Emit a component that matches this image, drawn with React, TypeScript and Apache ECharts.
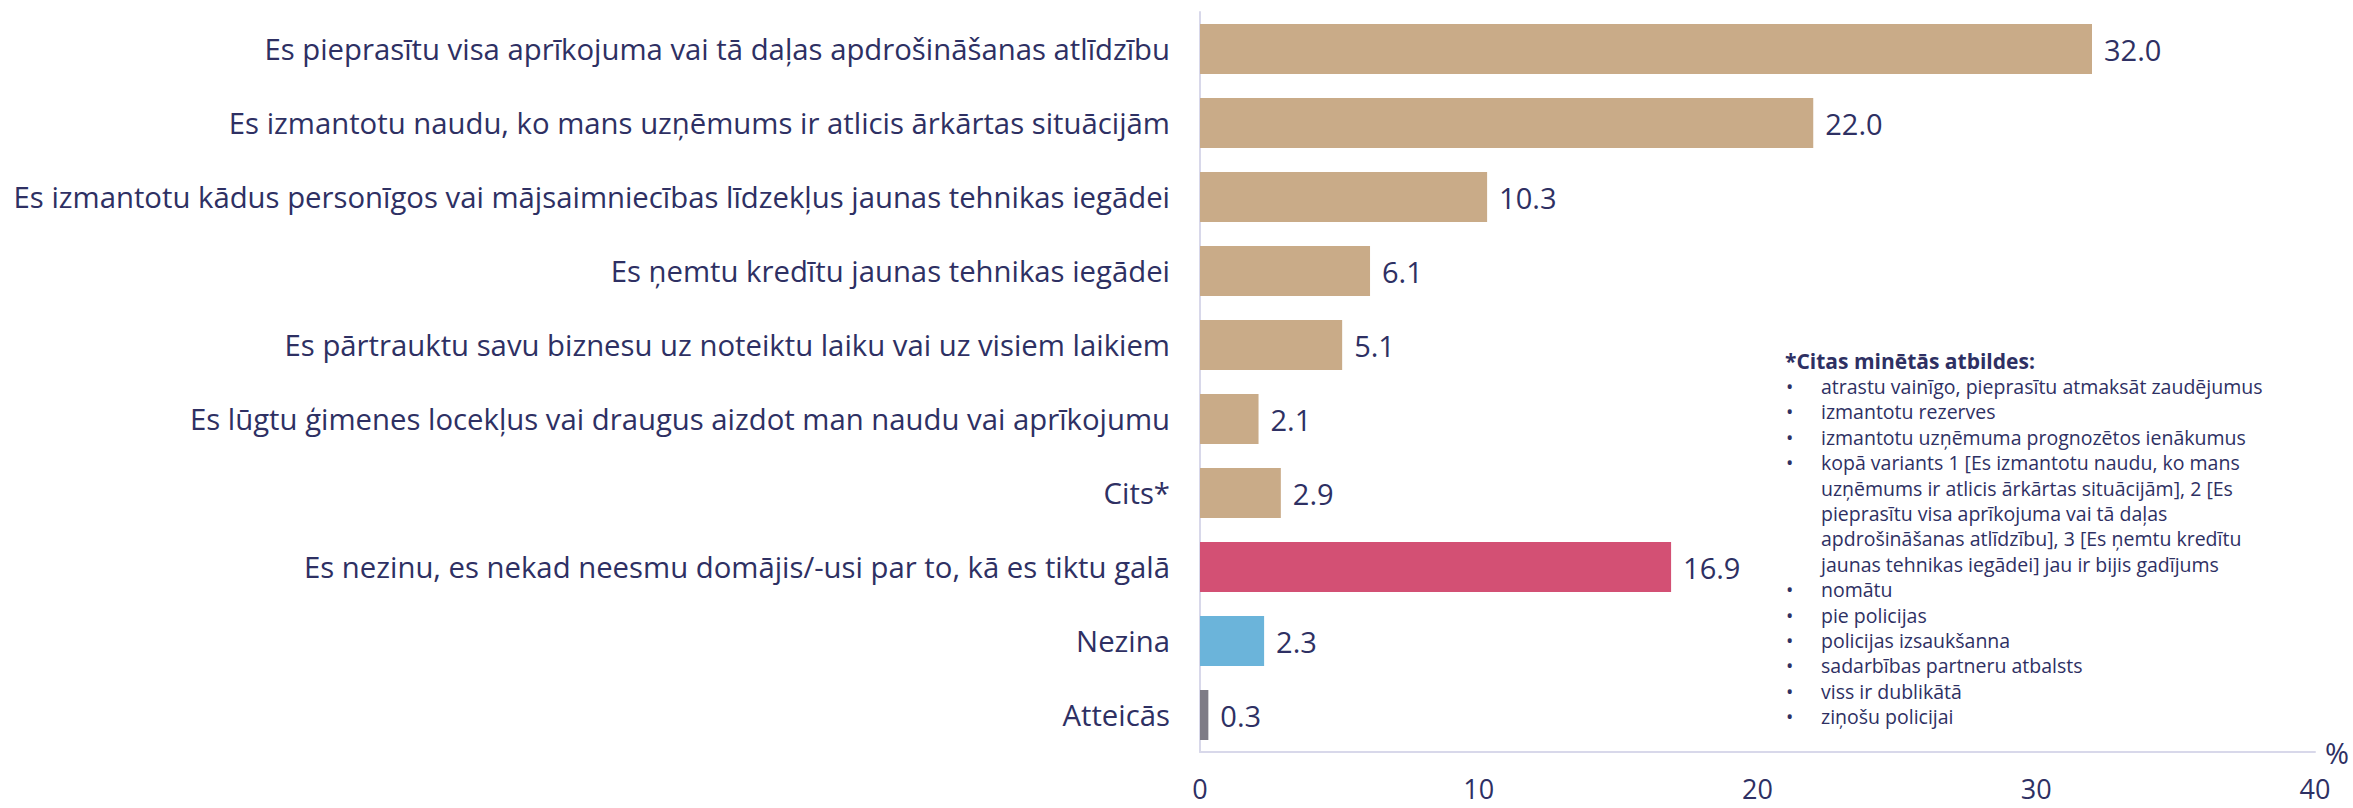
import React, { useEffect, useRef } from "react";
import * as echarts from "echarts";

const categories = [
  "Es pieprasītu visa aprīkojuma vai tā daļas apdrošināšanas atlīdzību",
  "Es izmantotu naudu, ko mans uzņēmums ir atlicis ārkārtas situācijām",
  "Es izmantotu kādus personīgos vai mājsaimniecības līdzekļus jaunas tehnikas iegādei",
  "Es ņemtu kredītu jaunas tehnikas iegādei",
  "Es pārtrauktu savu biznesu uz noteiktu laiku vai uz visiem laikiem",
  "Es lūgtu ģimenes locekļus vai draugus aizdot man naudu vai aprīkojumu",
  "Cits*",
  "Es nezinu, es nekad neesmu domājis/-usi par to, kā es tiktu galā",
  "Nezina",
  "Atteicās",
];
const values = [32.0, 22.0, 10.3, 6.1, 5.1, 2.1, 2.9, 16.9, 2.3, 0.3];
const barColors = [
  "#C9AB88", "#C9AB88", "#C9AB88", "#C9AB88", "#C9AB88", "#C9AB88", "#C9AB88",
  "#D35074", "#6BB4DA", "#7E7C86",
];
const xTicks = [0, 10, 20, 30, 40];
const noteTitle = "*Citas minētās atbildes:";
const noteLines: [boolean, string][] = [
  [true, "atrastu vainīgo, pieprasītu atmaksāt zaudējumus"],
  [true, "izmantotu rezerves"],
  [true, "izmantotu uzņēmuma prognozētos ienākumus"],
  [true, "kopā variants 1 [Es izmantotu naudu, ko mans"],
  [false, "uzņēmums ir atlicis ārkārtas situācijām], 2 [Es"],
  [false, "pieprasītu visa aprīkojuma vai tā daļas"],
  [false, "apdrošināšanas atlīdzību], 3 [Es ņemtu kredītu"],
  [false, "jaunas tehnikas iegādei] jau ir bijis gadījums"],
  [true, "nomātu"],
  [true, "pie policijas"],
  [true, "policijas izsaukšanna"],
  [true, "sadarbības partneru atbalsts"],
  [true, "viss ir dublikātā"],
  [true, "ziņošu policijai"],
];

const TEXT = "#2E3063";
const AXIS = "#D8D8EA";
const FONT = "'Open Sans', sans-serif";

export default function App() {
  const ref = useRef<HTMLDivElement>(null);
  useEffect(() => {
    document.body.style.margin = "0";
    if (!ref.current) return;
    const chart = echarts.init(ref.current, null, { renderer: "svg" });
    const noteX = 1786;
    const textX = 1821;
    const y0 = 361;
    const lh = 25.4;
    const graphics: any[] = [
      {
        type: "text",
        x: noteX - 1,
        y: y0,
        style: {
          text: noteTitle,
          fill: TEXT,
          font: `bold 21px ${FONT}`,
          verticalAlign: "middle",
        },
      },
    ];
    noteLines.forEach(([bullet, t], i) => {
      const y = y0 + lh * (i + 1);
      if (bullet) {
        graphics.push({
          type: "text",
          x: noteX,
          y,
          style: { text: "•", fill: TEXT, font: `19.5px ${FONT}`, verticalAlign: "middle" },
        });
      }
      graphics.push({
        type: "text",
        x: textX,
        y,
        style: { text: t, fill: TEXT, font: `19.5px ${FONT}`, verticalAlign: "middle" },
      });
    });

    chart.setOption({
      animation: false,
      textStyle: { fontFamily: FONT },
      grid: { left: 1200, right: 38, top: 12, bottom: 56, containLabel: false },
      xAxis: {
        type: "value",
        min: xTicks[0],
        max: xTicks[xTicks.length - 1],
        interval: 10,
        splitLine: { show: false },
        axisTick: { show: false },
        axisLine: { show: true, lineStyle: { color: AXIS, width: 2 } },
        axisLabel: { color: TEXT, fontSize: 27, lineHeight: 22, margin: 25, fontFamily: FONT },
        name: "%",
        nameLocation: "end",
        nameGap: 10,
        nameTextStyle: { color: TEXT, fontSize: 29, fontFamily: FONT, verticalAlign: "middle" },
      },
      yAxis: {
        type: "category",
        inverse: true,
        data: categories,
        axisTick: { show: false },
        axisLine: { show: true, lineStyle: { color: AXIS, width: 2 } },
        axisLabel: { color: TEXT, fontSize: 29.3, margin: 30, fontFamily: FONT },
      },
      series: [
        {
          type: "bar",
          barWidth: 50,
          data: values.map((v, i) => ({ value: v, itemStyle: { color: barColors[i] } })),
          label: {
            show: true,
            position: "right",
            distance: 12,
            color: TEXT,
            fontSize: 29,
            fontFamily: FONT,
            formatter: (p: any) => Number(p.value).toFixed(1),
          },
        },
      ],
      graphic: graphics,
    });
    return () => chart.dispose();
  }, []);
  return <div ref={ref} style={{ width: 2353, height: 808 }} />;
}
